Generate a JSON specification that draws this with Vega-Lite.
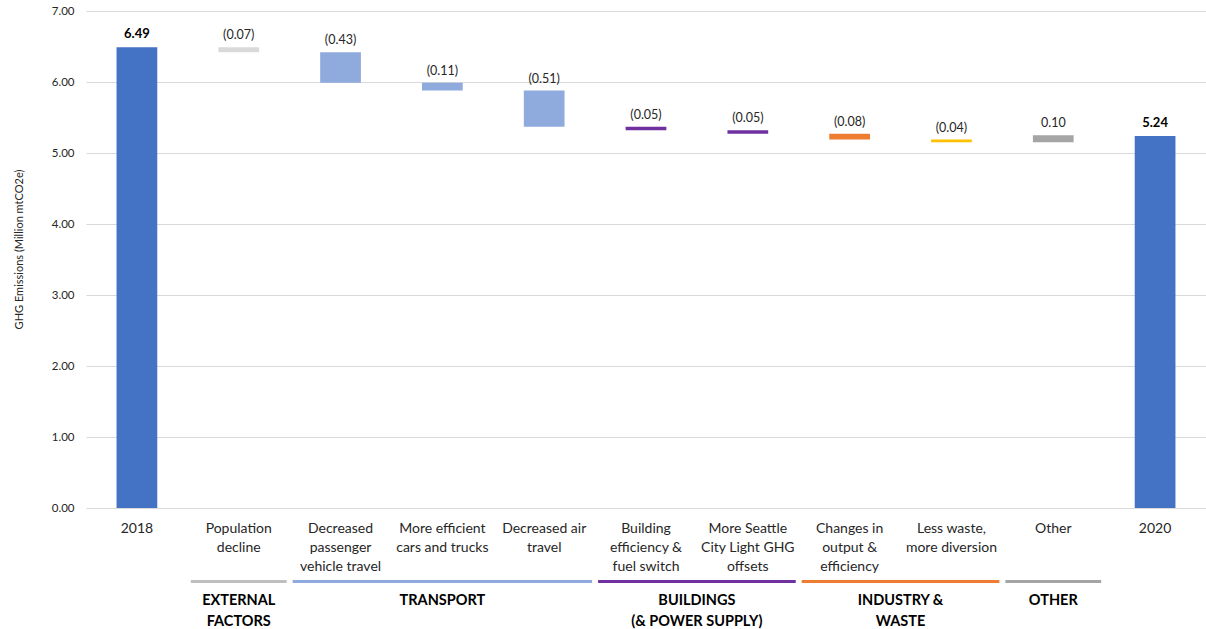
{
  "$schema": "https://vega.github.io/schema/vega-lite/v6.json",
  "background": "white",
  "padding": {"left": 13, "top": 5, "right": 0, "bottom": 0},
  "spacing": 2,
  "config": {"view": {"stroke": null}, "font": "Lato"},
  "resolve": {"scale": {"x": "independent", "y": "independent", "color": "independent"}},
  "vconcat": [
    {
      "width": 1120,
      "height": 497,
      "data": {
        "values": [
          {"step": "2018", "segment": "total", "low": 0, "high": 6.49, "amount": 6.49},
          {"step": "Population|decline", "segment": "external", "low": 6.42, "high": 6.49, "amount": -0.07},
          {"step": "Decreased|passenger|vehicle travel", "segment": "transport", "low": 5.99, "high": 6.42, "amount": -0.43},
          {"step": "More efficient|cars and trucks", "segment": "transport", "low": 5.88, "high": 5.99, "amount": -0.11},
          {"step": "Decreased air|travel", "segment": "transport", "low": 5.37, "high": 5.88, "amount": -0.51},
          {"step": "Building|efficiency &|fuel switch", "segment": "buildings", "low": 5.32, "high": 5.37, "amount": -0.05},
          {"step": "More Seattle|City Light GHG|offsets", "segment": "buildings", "low": 5.27, "high": 5.32, "amount": -0.05},
          {"step": "Changes in|output &|efficiency", "segment": "industry", "low": 5.19, "high": 5.27, "amount": -0.08},
          {"step": "Less waste,|more diversion", "segment": "waste", "low": 5.15, "high": 5.19, "amount": -0.04},
          {"step": "Other", "segment": "other", "low": 5.15, "high": 5.25, "amount": 0.10},
          {"step": "2020", "segment": "total", "low": 0, "high": 5.24, "amount": 5.24}
        ]
      },
      "encoding": {
        "x": {
          "field": "step",
          "type": "nominal",
          "sort": null,
          "scale": {"paddingInner": 0.6, "paddingOuter": 0.3},
          "axis": {
            "title": null,
            "labelAngle": 0,
            "ticks": false,
            "domain": false,
            "labelPadding": 13,
            "labelFontSize": 14,
            "labelLineHeight": 19,
            "labelBaseline": "top",
            "labelColor": "#262626",
            "labelOverlap": false,
            "labelLimit": 0,
            "labelExpr": "split(datum.label, '|')"
          }
        }
      },
      "layer": [
        {
          "mark": {"type": "bar"},
          "encoding": {
            "y": {
              "field": "low",
              "type": "quantitative",
              "scale": {"domain": [0, 7], "nice": false},
              "axis": {
                "title": "GHG Emissions (Million mtCO2e)",
                "values": [0, 1, 2, 3, 4, 5, 6, 7],
                "format": ".2f",
                "ticks": false,
                "domain": false,
                "gridColor": "#D9D9D9",
                "labelFontSize": 11.5,
                "labelColor": "#262626",
                "labelPadding": 12,
                "titleFontSize": 11,
                "titleFontWeight": "normal",
                "titleColor": "#262626",
                "titlePadding": 27,
                "titleY": 238
              }
            },
            "y2": {"field": "high"},
            "color": {
              "field": "segment",
              "type": "nominal",
              "legend": null,
              "scale": {
                "domain": ["total", "external", "transport", "buildings", "industry", "waste", "other"],
                "range": ["#4472C4", "#D9D9D9", "#8FAADC", "#7030A0", "#ED7D31", "#FFC000", "#A5A5A5"]
              }
            }
          }
        },
        {
          "transform": [{"filter": "datum.segment !== 'total'"}],
          "mark": {"type": "text", "baseline": "bottom", "dy": -5, "fontSize": 12.5, "color": "#262626"},
          "encoding": {
            "y": {"field": "high", "type": "quantitative"},
            "text": {"field": "amount", "type": "quantitative", "format": "(.2f"}
          }
        },
        {
          "transform": [{"filter": "datum.segment === 'total'"}],
          "mark": {"type": "text", "baseline": "bottom", "dy": -6, "fontSize": 13, "fontWeight": "bold", "color": "#000000"},
          "encoding": {
            "y": {"field": "high", "type": "quantitative"},
            "text": {"field": "amount", "type": "quantitative", "format": ".2f"}
          }
        }
      ]
    },
    {
      "width": 1120,
      "height": 54,
      "data": {
        "values": [
          {"name": ["EXTERNAL", "FACTORS"], "from": 1, "to": 2, "segment": "external"},
          {"name": ["TRANSPORT"], "from": 2, "to": 5, "segment": "transport"},
          {"name": ["BUILDINGS", "(& POWER SUPPLY)"], "from": 5, "to": 7, "segment": "buildings"},
          {"name": ["INDUSTRY &", "WASTE"], "from": 7, "to": 9, "segment": "industry"},
          {"name": ["OTHER"], "from": 9, "to": 10, "segment": "other"}
        ]
      },
      "layer": [
        {
          "mark": {"type": "rule", "strokeWidth": 3, "xOffset": 3, "x2Offset": -3},
          "encoding": {
            "x": {"field": "from", "type": "quantitative", "scale": {"domain": [0, 11], "nice": false, "zero": false}, "axis": null},
            "x2": {"field": "to"},
            "y": {"datum": 0.12, "type": "quantitative", "scale": {"domain": [0, 1], "nice": false, "reverse": true}, "axis": null},
            "color": {
              "field": "segment",
              "type": "nominal",
              "legend": null,
              "scale": {
                "domain": ["external", "transport", "buildings", "industry", "other"],
                "range": ["#BFBFBF", "#8FAADC", "#7030A0", "#ED7D31", "#A5A5A5"]
              }
            }
          }
        },
        {
          "transform": [{"calculate": "(datum.from + datum.to) / 2", "as": "mid"}],
          "mark": {"type": "text", "baseline": "top", "fontSize": 14.5, "fontWeight": "bold", "lineHeight": 21, "color": "#000000"},
          "encoding": {
            "x": {"field": "mid", "type": "quantitative"},
            "y": {"datum": 0.36, "type": "quantitative"},
            "text": {"field": "name"}
          }
        }
      ]
    }
  ]
}
